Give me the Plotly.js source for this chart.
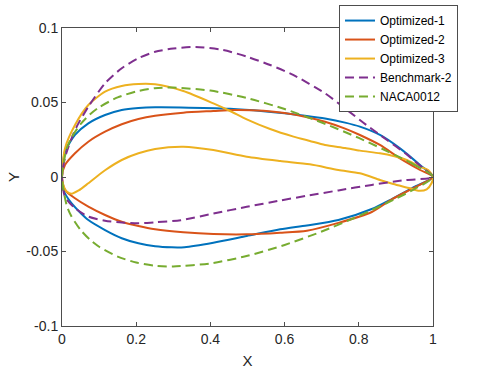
<!DOCTYPE html>
<html>
<head>
<meta charset="utf-8">
<script src="https://cdn.plot.ly/plotly-3.0.1.min.js"></script>
<style>
  body { margin: 0; background: #fff; }
  #plot { width: 479px; height: 370px; }
</style>
</head>
<body>
<div id="plot"></div>
<script>
// airfoil coordinates (upper / lower surfaces)
var opt1UpX = [0, 0.003, 0.008, 0.035, 0.071, 0.116, 0.161, 0.206, 0.251, 0.32, 0.453, 0.543, 0.6, 0.655, 0.709, 0.763, 0.803, 0.857, 0.911, 0.965, 1]
var opt1UpY = [0, 0.010, 0.017, 0.0282, 0.036, 0.0416, 0.045, 0.0463, 0.0468, 0.0467, 0.0458, 0.0442, 0.0428, 0.0411, 0.0392, 0.0365, 0.0338, 0.0282, 0.0192, 0.008, 0]
var opt1LoX = [0, 0.004, 0.026, 0.071, 0.116, 0.161, 0.206, 0.251, 0.296, 0.33, 0.408, 0.498, 0.588, 0.66, 0.745, 0.835, 0.889, 0.951, 1]
var opt1LoY = [0, -0.0087, -0.0177, -0.0289, -0.0356, -0.0411, -0.0445, -0.0465, -0.0472, -0.0471, -0.0441, -0.0396, -0.0351, -0.0325, -0.0289, -0.0215, -0.0148, -0.0065, 0]

var opt2UpX = [0, 0.008, 0.035, 0.071, 0.116, 0.161, 0.206, 0.251, 0.327, 0.408, 0.462, 0.543, 0.6, 0.655, 0.709, 0.763, 0.803, 0.857, 0.911, 0.965, 1]
var opt2UpY = [0, 0.008, 0.0159, 0.0237, 0.0304, 0.0354, 0.0389, 0.0411, 0.0432, 0.0443, 0.045, 0.0445, 0.043, 0.0405, 0.0371, 0.0325, 0.0282, 0.0215, 0.0125, 0.0047, 0]
var opt2LoX = [0, 0.008, 0.035, 0.071, 0.116, 0.161, 0.206, 0.251, 0.327, 0.408, 0.498, 0.588, 0.66, 0.745, 0.835, 0.889, 0.951, 1]
var opt2LoY = [0, -0.0087, -0.0143, -0.0199, -0.0255, -0.03, -0.0329, -0.0351, -0.0371, -0.0383, -0.0385, -0.0374, -0.036, -0.0308, -0.0235, -0.015, -0.0069, 0]

var opt3UpX = [0, 0.008, 0.035, 0.071, 0.116, 0.161, 0.206, 0.251, 0.327, 0.408, 0.453, 0.498, 0.561, 0.624, 0.668, 0.709, 0.763, 0.803, 0.857, 0.893, 0.929, 0.965, 0.987, 1]
var opt3UpY = [0, 0.0192, 0.0349, 0.0483, 0.0573, 0.0611, 0.0624, 0.0622, 0.0577, 0.0494, 0.0443, 0.0387, 0.0322, 0.0271, 0.0242, 0.0215, 0.0195, 0.0177, 0.0159, 0.0141, 0.0114, 0.0069, 0.0047, 0]
var opt3LoX = [0, 0.004, 0.012, 0.026, 0.045, 0.071, 0.116, 0.161, 0.206, 0.251, 0.327, 0.408, 0.498, 0.588, 0.668, 0.745, 0.803, 0.857, 0.893, 0.938, 0.96, 0.983, 0.996, 1]
var opt3LoY = [0, -0.006, -0.0095, -0.0112, -0.009, -0.0042, 0.0045, 0.0114, 0.0159, 0.0188, 0.0203, 0.0181, 0.0136, 0.0107, 0.0085, 0.0047, 0.0025, -0.002, -0.0047, -0.0076, -0.0092, -0.0083, -0.0042, 0]

var benchUpX = [0, 0.008, 0.022, 0.04, 0.071, 0.116, 0.161, 0.206, 0.251, 0.30, 0.36, 0.434, 0.498, 0.561, 0.623, 0.709, 0.763, 0.82, 0.875, 0.93, 0.97, 1]
var benchUpY = [0, 0.013, 0.0235, 0.034, 0.0472, 0.0629, 0.073, 0.0797, 0.0841, 0.0862, 0.0873, 0.0852, 0.0808, 0.0752, 0.0685, 0.0562, 0.046, 0.035, 0.025, 0.015, 0.0065, 0]
var benchLoX = [0, 0.008, 0.035, 0.071, 0.116, 0.161, 0.206, 0.251, 0.32, 0.408, 0.498, 0.588, 0.66, 0.745, 0.835, 0.925, 1]
var benchLoY = [0, -0.0132, -0.0209, -0.0266, -0.0293, -0.0306, -0.0311, -0.0304, -0.029, -0.0245, -0.02, -0.0158, -0.0126, -0.009, -0.0053, -0.0021, 0]

var nacaX = [0, 0.0125, 0.025, 0.05, 0.075, 0.1, 0.15, 0.2, 0.25, 0.3, 0.4, 0.5, 0.6, 0.7, 0.8, 0.9, 0.95, 1]
var nacaUpY = [0, 0.0189, 0.0262, 0.0355, 0.042, 0.0468, 0.0534, 0.0574, 0.0596, 0.06, 0.058, 0.0529, 0.0456, 0.0366, 0.0262, 0.0145, 0.0081, 0]
var nacaLoY = [0, -0.0189, -0.0262, -0.0355, -0.042, -0.0468, -0.0534, -0.0574, -0.0596, -0.06, -0.058, -0.0529, -0.0456, -0.0366, -0.0262, -0.0145, -0.0081, 0]

var names = ["Optimized-1", "Optimized-2", "Optimized-3", "Benchmark-2", "NACA0012"]
var colors = ["#0072BD", "#D95319", "#EDB120", "#7E2F8E", "#77AC30"]

// trailing edge -> leading edge along the top, then back along the bottom
function loop(xu, yu, xl, yl){
    let x = xu.slice().reverse()
    let y = yu.slice().reverse()
    for (let i = 1; i < xl.length; i++){
        x.push(xl[i])
        y.push(yl[i])
    }
    return [x, y]
}

let shapes = [
    loop(opt1UpX, opt1UpY, opt1LoX, opt1LoY),
    loop(opt2UpX, opt2UpY, opt2LoX, opt2LoY),
    loop(opt3UpX, opt3UpY, opt3LoX, opt3LoY),
    loop(benchUpX, benchUpY, benchLoX, benchLoY),
    loop(nacaX, nacaUpY, nacaX, nacaLoY)
]

const data = []
for (let i = 0; i < shapes.length; i++){
    data.push({
        x: shapes[i][0],
        y: shapes[i][1],
        name: names[i],
        mode: "lines",
        line: {
            color: colors[i],
            width: 2,
            shape: "spline",
            smoothing: 0.7,
            dash: i < 3 ? "solid" : "9px,5px"
        }
    })
}

const font = "'Liberation Sans', Arial, Helvetica, sans-serif"
const axisCommon = {
    showgrid: false,
    zeroline: false,
    showline: true,
    linecolor: "#4d4d4d",
    linewidth: 1,
    mirror: "ticks",
    ticks: "inside",
    ticklen: 4,
    tickcolor: "#4d4d4d",
    automargin: false,
    tickfont: {family: font, size: 14, color: "#262626"}
}

const layout = {
    width: 479,
    height: 370,
    margin: {l: 62, r: 46, t: 28, b: 44, autoexpand: false},
    paper_bgcolor: "#fff",
    plot_bgcolor: "#fff",
    showlegend: true,
    legend: {
        x: 0.7466, y: 1.077, xanchor: "left", yanchor: "top",
        bgcolor: "#fff",
        bordercolor: "#4d4d4d",
        borderwidth: 1,
        font: {family: font, size: 12, color: "#000"},
        tracegroupgap: 0
    },
    xaxis: Object.assign({}, axisCommon, {
        range: [0, 1],
        tickvals: [0, 0.2, 0.4, 0.6, 0.8, 1],
        ticktext: ["0", "0.2", "0.4", "0.6", "0.8", "1"],
        title: {text: "X", font: {family: font, size: 15, color: "#262626"}, standoff: 9}
    }),
    yaxis: Object.assign({}, axisCommon, {
        range: [-0.1, 0.1],
        tickvals: [-0.1, -0.05, 0, 0.05, 0.1],
        ticktext: ["-0.1", "-0.05", "0", "0.05", "0.1"],
        title: {text: "Y", font: {family: font, size: 15, color: "#262626"}, standoff: 3}
    })
}

Plotly.newPlot("plot", data, layout, {staticPlot: true})
</script>
</body>
</html>
